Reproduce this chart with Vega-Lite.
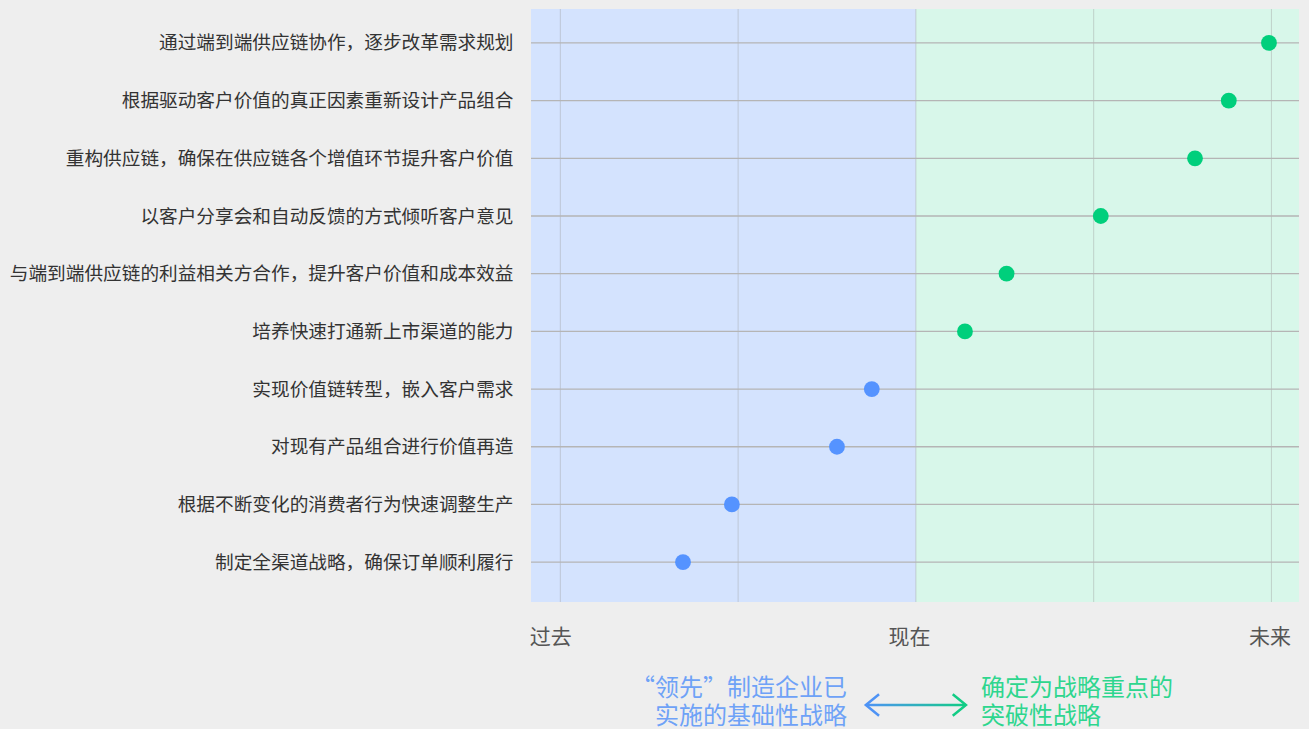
{
  "$schema": "https://vega.github.io/schema/vega-lite/v6.json",
  "width": 768,
  "height": 593,
  "padding": {"left": 9, "top": 8, "right": 10, "bottom": 0},
  "background": "#EEEEEE",
  "config": {"view": {"stroke": null}, "font": "Noto Sans CJK SC", "text": {"font": "Noto Sans CJK SC"}},
  "datasets": {
    "items": [
      {"item": "通过端到端供应链协作，逐步改革需求规划", "score": 1.986},
      {"item": "根据驱动客户价值的真正因素重新设计产品组合", "score": 1.76},
      {"item": "重构供应链，确保在供应链各个增值环节提升客户价值", "score": 1.57},
      {"item": "以客户分享会和自动反馈的方式倾听客户意见", "score": 1.04},
      {"item": "与端到端供应链的利益相关方合作，提升客户价值和成本效益", "score": 0.51},
      {"item": "培养快速打通新上市渠道的能力", "score": 0.276},
      {"item": "实现价值链转型，嵌入客户需求", "score": -0.248},
      {"item": "对现有产品组合进行价值再造", "score": -0.444},
      {"item": "根据不断变化的消费者行为快速调整生产", "score": -1.035},
      {"item": "制定全渠道战略，确保订单顺利履行", "score": -1.31}
    ],
    "zones": [
      {"zone": "past", "from": -2.165, "to": 0},
      {"zone": "future", "from": 0, "to": 2.155}
    ],
    "grid": [{"g": -2}, {"g": -1}, {"g": 0}, {"g": 1}, {"g": 2}],
    "note": [{"k": 1}]
  },
  "resolve": {"scale": {"y": "independent"}},
  "layer": [
    {
      "layer": [
        {
          "data": {"name": "zones"},
          "mark": {"type": "rect"},
          "encoding": {
            "x": {"field": "from", "type": "quantitative", "scale": {"domain": [-2.165, 2.155], "nice": false, "zero": false},
              "axis": {"title": null, "domain": false, "ticks": false, "grid": false, "values": [-2, 0, 2], "labelExpr": "datum.value == -2 ? '过去' : datum.value == 0 ? '现在' : '未来'", "labelFontSize": 21, "labelPadding": 24, "labelColor": "#555555", "labelOffset": {"condition": [{"test": "datum.value == -2", "value": -10}, {"test": "datum.value == 0", "value": -7}], "value": -2}, "labelFont": "Noto Sans CJK SC"}},
            "x2": {"field": "to"},
            "color": {"condition": {"test": "datum.zone == 'past'", "value": "#D4E3FE"}, "value": "#D8F7EA"}
          }
        },
        {
          "data": {"name": "grid"},
          "mark": {"type": "rule", "color": "#9A9A9A", "opacity": 0.4, "strokeWidth": 1},
          "encoding": {
            "x": {"field": "g", "type": "quantitative", "scale": {"domain": [-2.165, 2.155], "nice": false, "zero": false}}
          }
        },
        {
          "data": {"name": "items"},
          "mark": {"type": "rule", "color": "#B5B5B5", "strokeWidth": 1.3},
          "encoding": {
            "y": {"field": "item", "type": "nominal", "sort": null, "scale": {"type": "point", "padding": 0.64, "align": 0.46},
              "axis": {"title": null, "domain": false, "ticks": false, "grid": false, "labelFontSize": 18.67, "labelPadding": 18, "labelColor": "#333333", "labelLimit": 1000, "labelFont": "Noto Sans CJK SC"}}
          }
        },
        {
          "data": {"name": "items"},
          "mark": {"type": "circle", "size": 250, "opacity": 1},
          "encoding": {
            "y": {"field": "item", "type": "nominal", "sort": null, "scale": {"type": "point", "padding": 0.64, "align": 0.46},
              "axis": {"title": null, "domain": false, "ticks": false, "grid": false, "labelFontSize": 18.67, "labelPadding": 18, "labelColor": "#333333", "labelLimit": 1000, "labelFont": "Noto Sans CJK SC"}},
            "x": {"field": "score", "type": "quantitative", "scale": {"domain": [-2.165, 2.155], "nice": false, "zero": false}},
            "color": {"condition": {"test": "datum.score < 0", "value": "#5593FF"}, "value": "#00CF7C"}
          }
        }
      ]
    },
    {
      "data": {"name": "note"},
      "layer": [
        {
          "mark": {"type": "text", "text": ["“领先”制造企业已", "实施的基础性战略"], "align": "right", "baseline": "middle", "fontSize": 24, "lineHeight": 28, "color": "#6EA2F7"},
          "encoding": {
            "x": {"datum": -0.388, "type": "quantitative", "scale": {"domain": [-2.165, 2.155], "nice": false, "zero": false}},
            "y": {"datum": -0.1467, "type": "quantitative", "scale": {"domain": [0, 1], "nice": false, "zero": false}, "axis": null}
          }
        },
        {
          "mark": {"type": "text", "text": ["确定为战略重点的", "突破性战略"], "align": "left", "baseline": "middle", "fontSize": 24, "lineHeight": 28, "color": "#2ED68E"},
          "encoding": {
            "x": {"datum": 0.366, "type": "quantitative", "scale": {"domain": [-2.165, 2.155], "nice": false, "zero": false}},
            "y": {"datum": -0.1467, "type": "quantitative", "scale": {"domain": [0, 1], "nice": false, "zero": false}, "axis": null}
          }
        },
        {
          "mark": {"type": "rect", "color": {"gradient": "linear", "stops": [{"offset": 0, "color": "#4E93F5"}, {"offset": 1, "color": "#12CC85"}]}},
          "encoding": {
            "x": {"datum": -0.278, "type": "quantitative", "scale": {"domain": [-2.165, 2.155], "nice": false, "zero": false}},
            "x2": {"datum": 0.278},
            "y": {"datum": -0.1717, "type": "quantitative", "scale": {"domain": [0, 1], "nice": false, "zero": false}, "axis": null},
            "y2": {"datum": -0.1757}
          }
        },
        {
          "mark": {"type": "point", "shape": "M0.1,-0.9L-1,0L0.1,0.9", "filled": false, "size": 576, "strokeWidth": 2.5, "color": "#4E93F5", "opacity": 1},
          "encoding": {
            "x": {"datum": -0.214, "type": "quantitative", "scale": {"domain": [-2.165, 2.155], "nice": false, "zero": false}},
            "y": {"datum": -0.1737, "type": "quantitative", "scale": {"domain": [0, 1], "nice": false, "zero": false}, "axis": null}
          }
        },
        {
          "mark": {"type": "point", "shape": "M-0.1,-0.9L1,0L-0.1,0.9", "filled": false, "size": 576, "strokeWidth": 2.5, "color": "#12CC85", "opacity": 1},
          "encoding": {
            "x": {"datum": 0.214, "type": "quantitative", "scale": {"domain": [-2.165, 2.155], "nice": false, "zero": false}},
            "y": {"datum": -0.1737, "type": "quantitative", "scale": {"domain": [0, 1], "nice": false, "zero": false}, "axis": null}
          }
        }
      ]
    }
  ]
}
